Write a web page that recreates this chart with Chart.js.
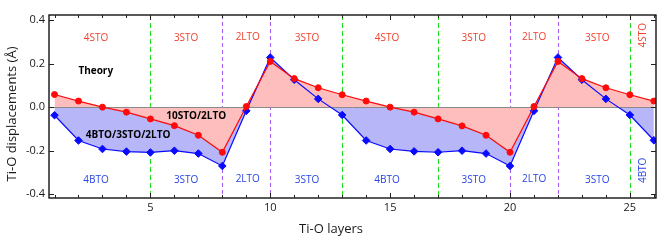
<!DOCTYPE html>
<html>
<head>
<meta charset="utf-8">
<script src="https://cdn.jsdelivr.net/npm/chart.js@4.4.0/dist/chart.umd.min.js"></script>
<style>
  html, body { margin: 0; padding: 0; background: #fff; }
  #wrap { width: 664px; height: 249px; }
</style>
</head>
<body>
<div id="wrap"><canvas id="chart" width="664" height="249"></canvas></div>
<script>
// Ti-O layer index and displacement values
const layers = [1, 2, 3, 4, 5, 6, 7, 8, 9, 10, 11, 12, 13, 14, 15, 16, 17, 18, 19, 20, 21, 22, 23, 24, 25, 26]
const stoLto = [0.058, 0.028, 0.0, -0.023, -0.054, -0.085, -0.129, -0.207, 0.003, 0.21, 0.131, 0.089, 0.057,
  0.028, 0.0, -0.023, -0.054, -0.086, -0.129, -0.207, 0.003, 0.21, 0.131, 0.089, 0.057, 0.028]
const btoStoLto = [-0.037, -0.153, -0.192, -0.204, -0.208, -0.2, -0.213, -0.27, -0.017, 0.228, 0.126, 0.038, -0.036,
  -0.153, -0.192, -0.203, -0.207, -0.2, -0.213, -0.27, -0.017, 0.228, 0.126, 0.038, -0.036, -0.152]

const xTicks = [5, 10, 15, 20, 25]
const yTicks = [-0.4, -0.2, 0, 0.2, 0.4]

// interface markers
const greenLines = [5, 13, 17, 25]
const purpleLines = [8, 10, 20, 22]

// block labels
const labelX = [2.73, 6.49, 9.06, 11.53, 14.87, 18.49, 21.01, 23.64]
const topLabels = ["4STO", "3STO", "2LTO", "3STO", "4STO", "3STO", "2LTO", "3STO"]
const bottomLabels = ["4BTO", "3STO", "2LTO", "3STO", "4BTO", "3STO", "2LTO", "3STO"]
const edgeX = 25.57

const RED = "#ff0a0a"
const BLUE = "#0a0aff"
const TXT_RED = "#f0402e"
const TXT_BLUE = "#2a44e6"
const FONT = "'Open Sans', sans-serif"

Chart.defaults.font.family = FONT
Chart.defaults.color = "#1a1a1a"

const overlay = {
  id: "overlay",
  beforeDraw(chart) {
    // dashed interface lines, under the fills
    const { ctx, chartArea: a, scales: { x } } = chart
    ctx.save()
    ctx.lineWidth = 1.1
    const draw = (vals, color, dash) => {
      ctx.strokeStyle = color
      ctx.setLineDash(dash)
      vals.forEach((v) => {
        const px = Math.round(x.getPixelForValue(v)) + 0.5
        ctx.beginPath()
        ctx.moveTo(px, a.top)
        ctx.lineTo(px, a.bottom)
        ctx.stroke()
      })
    }
    draw(greenLines, "#22dd22", [5, 3])
    draw(purpleLines, "#a862f2", [4, 3])
    ctx.restore()
  },
  beforeDatasetsDraw(chart) {
    // zero line on top of the fills
    const { ctx, chartArea: a, scales: { y } } = chart
    const py = Math.round(y.getPixelForValue(0)) + 0.5
    ctx.save()
    ctx.strokeStyle = "#8a8a8a"
    ctx.lineWidth = 1
    ctx.beginPath()
    ctx.moveTo(a.left, py)
    ctx.lineTo(a.right, py)
    ctx.stroke()
    ctx.restore()
  },
  afterDatasetsDraw(chart) {
    const { ctx, scales: { x, y } } = chart
    ctx.save()
    ctx.textAlign = "center"
    ctx.textBaseline = "middle"
    ctx.font = "10px " + FONT
    labelX.forEach((lx, i) => {
      ctx.fillStyle = TXT_RED
      ctx.fillText(topLabels[i], x.getPixelForValue(lx), y.getPixelForValue(i === 2 || i === 6 ? 0.32 : 0.316))
      ctx.fillStyle = TXT_BLUE
      ctx.fillText(bottomLabels[i], x.getPixelForValue(lx), y.getPixelForValue(i === 2 || i === 6 ? -0.33 : -0.335))
    })
    // rotated labels at the right edge
    const ex = x.getPixelForValue(edgeX)
    ;[["4STO", TXT_RED, 0.33], ["4BTO", TXT_BLUE, -0.29]].forEach(([t, c, v]) => {
      ctx.save()
      ctx.translate(ex, y.getPixelForValue(v))
      ctx.rotate(-Math.PI / 2)
      ctx.fillStyle = c
      ctx.fillText(t, 0, 0)
      ctx.restore()
    })
    ctx.fillStyle = "#000"
    ctx.font = "bold 10px " + FONT
    ctx.fillText("Theory", x.getPixelForValue(2.72), y.getPixelForValue(0.164))
    ctx.fillText("10STO/2LTO", x.getPixelForValue(6.91), y.getPixelForValue(-0.04))
    ctx.fillText("4BTO/3STO/2LTO", x.getPixelForValue(4.07), y.getPixelForValue(-0.129))
    ctx.restore()
  },
  afterDraw(chart) {
    const { ctx, chartArea: a, scales: { x, y } } = chart
    ctx.save()
    // frame
    ctx.strokeStyle = "#000"
    ctx.lineWidth = 1.3
    ctx.strokeRect(a.left, a.top, a.right - a.left, a.bottom - a.top)
    // inward ticks
    ctx.lineWidth = 1
    ctx.strokeStyle = "#222"
    layers.forEach((v) => {
      const px = Math.round(x.getPixelForValue(v)) + 0.5
      const len = v % 5 === 0 ? 5 : 3
      ctx.beginPath()
      ctx.moveTo(px, a.bottom)
      ctx.lineTo(px, a.bottom - len)
      ctx.moveTo(px, a.top)
      ctx.lineTo(px, a.top + len)
      ctx.stroke()
    })
    yTicks.forEach((v) => {
      const py = Math.round(y.getPixelForValue(v)) + 0.5
      ctx.beginPath()
      ctx.moveTo(a.left, py)
      ctx.lineTo(a.left + 5, py)
      ctx.moveTo(a.right, py)
      ctx.lineTo(a.right - 5, py)
      ctx.stroke()
    })
    // axis titles
    ctx.fillStyle = "#1a1a1a"
    ctx.font = "13px " + FONT
    ctx.textAlign = "center"
    ctx.textBaseline = "middle"
    ctx.fillText("Ti-O layers", 331, 229)
    ctx.translate(12, 114)
    ctx.rotate(-Math.PI / 2)
    ctx.fillText("Ti-O displacements (Å)", 0, 0)
    ctx.restore()
  },
}

const ctx = document.getElementById("chart").getContext("2d")
new Chart(ctx, {
  type: "line",
  data: {
    datasets: [
      {
        label: "10STO/2LTO",
        data: layers.map((l, i) => ({ x: l, y: stoLto[i] })),
        borderColor: RED,
        backgroundColor: "#ffbebe",
        pointBackgroundColor: RED,
        pointBorderColor: RED,
        pointStyle: "circle",
        pointRadius: 3,
        pointBorderWidth: 1,
        borderWidth: 1.2,
        fill: "origin",
        tension: 0,
      },
      {
        label: "4BTO/3STO/2LTO",
        data: layers.map((l, i) => ({ x: l, y: btoStoLto[i] })),
        borderColor: BLUE,
        backgroundColor: "#b6b6f8",
        pointBackgroundColor: BLUE,
        pointBorderColor: BLUE,
        pointStyle: "rectRot",
        pointRadius: 3.8,
        pointBorderWidth: 1,
        borderWidth: 1.2,
        fill: "origin",
        tension: 0,
      },
    ],
  },
  options: {
    responsive: false,
    animation: false,
    layout: { padding: { left: 0, top: 15, right: 8, bottom: 0 } },
    plugins: {
      legend: { display: false },
      tooltip: { enabled: false },
      filler: { drawTime: "beforeDatasetsDraw" },
    },
    scales: {
      x: {
        type: "linear",
        min: 0.77,
        max: 26.09,
        grid: { display: false, drawTicks: false },
        border: { display: false },
        afterBuildTicks: (s) => { s.ticks = xTicks.map((v) => ({ value: v })) },
        afterFit: (s) => { s.height = 51 },
        ticks: { font: { size: 11 }, padding: 3, maxRotation: 0 },
      },
      y: {
        min: -0.417,
        max: 0.423,
        grid: { display: false, drawTicks: false },
        border: { display: false },
        afterBuildTicks: (s) => { s.ticks = yTicks.map((v) => ({ value: v })) },
        afterFit: (s) => { s.width = 49 },
        ticks: { font: { size: 11 }, padding: 4, callback: (v) => v.toFixed(1) },
      },
    },
  },
  plugins: [overlay],
})
</script>
</body>
</html>
